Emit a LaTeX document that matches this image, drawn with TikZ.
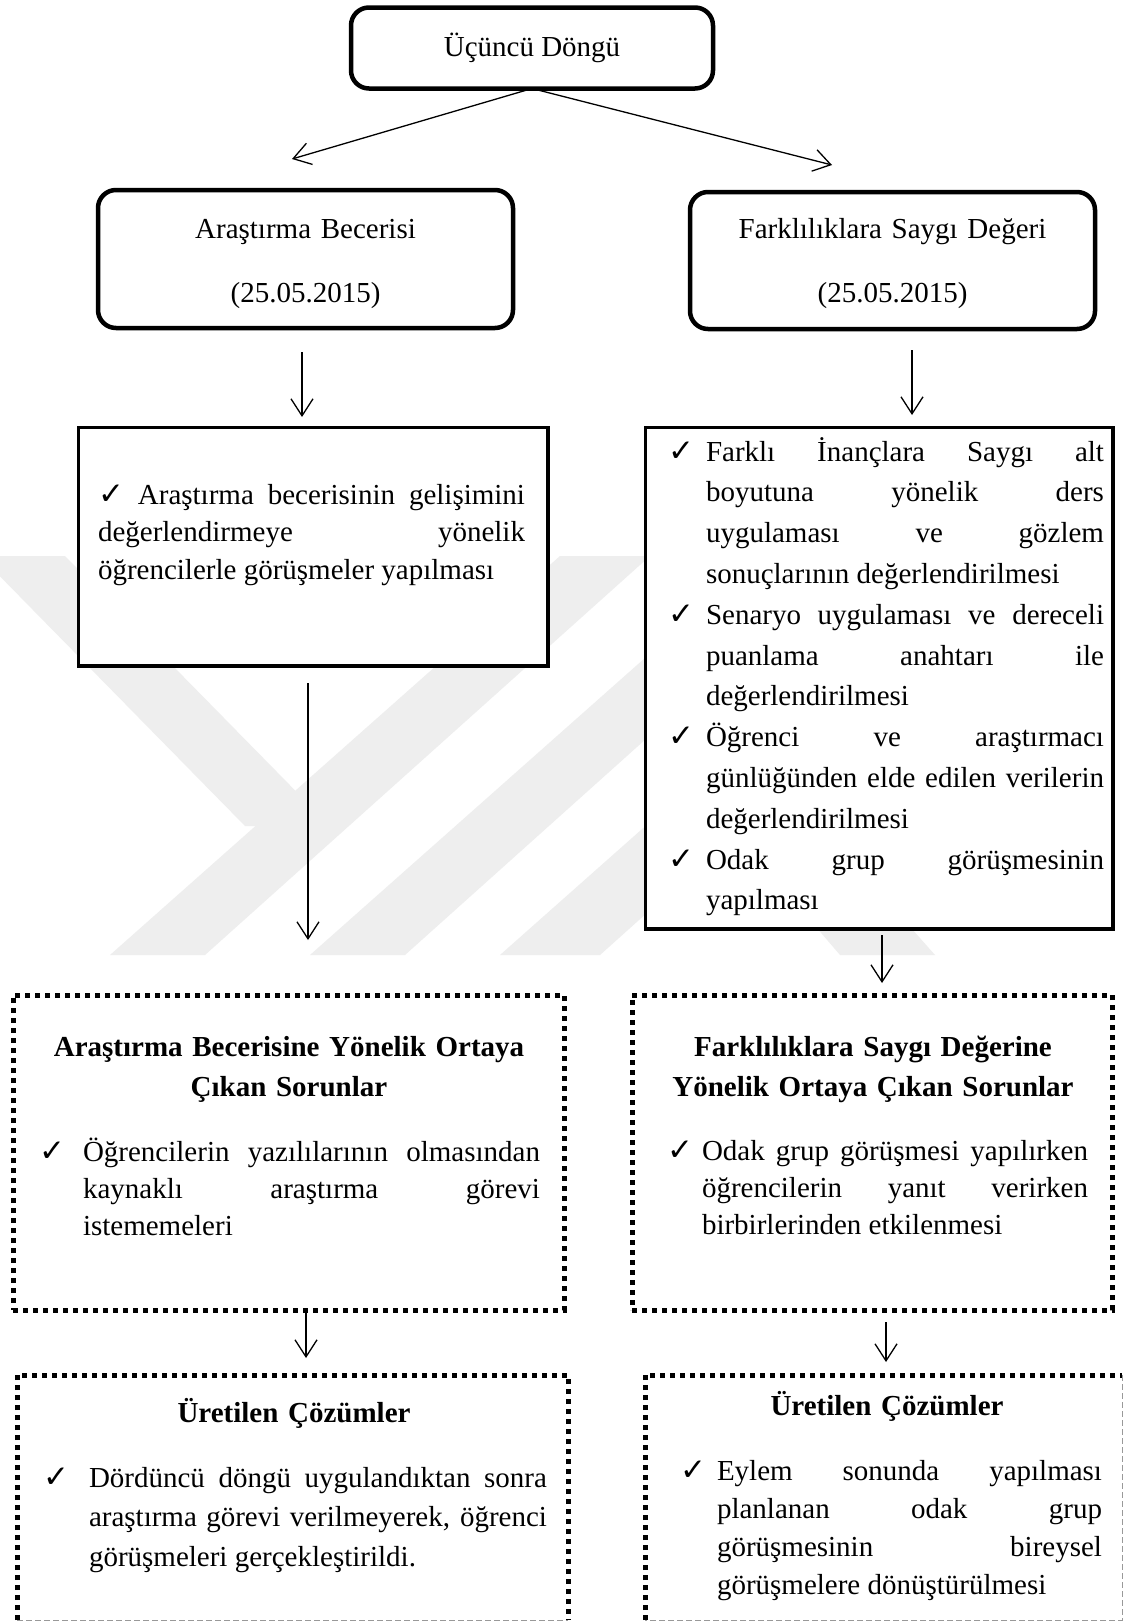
\documentclass[tikz,border=0pt]{standalone}
\usepackage{fontspec}
\setmainfont{Liberation Serif}
\newfontfamily\checkfont{DejaVu Sans}
\usetikzlibrary{arrows.meta}
\hyphenpenalty=10000
\exhyphenpenalty=10000
\tolerance=10000
\newcommand\chk{{\checkfont\fontsize{31pt}{31pt}\selectfont ✓}}
\newcommand\itemchk[1]{\leavevmode\llap{\makebox[#1][l]{\chk}}}

\tikzset{
  rbox/.style={draw, line width=4.5pt, rounded corners=18pt, fill=white, outer sep=0pt,
               font=\fontsize{29pt}{63pt}\selectfont, align=center},
  pbox/.style={draw, line width=3pt, fill=white, outer sep=0pt},
  pshade/.style={line width=2pt, line cap=rect},
  dbox/.style={draw, line width=5pt, dash pattern=on 5pt off 5pt, fill=white, outer sep=0pt},
  sbox/.style={fill=white, outer sep=0pt},
  dotline/.style={line width=5pt, dash pattern=on 5pt off 5pt},
  cutline/.style={line width=1pt, draw=gray!80, dash pattern=on 6pt off 3pt},
  txt/.style={anchor=base west, inner sep=0pt, outer sep=0pt, text width=#1, align=justify},
  head/.style={anchor=base, inner sep=0pt, outer sep=0pt, text width=#1, align=center,
              font=\fontsize{29pt}{64pt}\selectfont},
  ttl/.style={anchor=base, inner sep=0pt, outer sep=0pt, text width=#1, align=center,
              font=\fontsize{29pt}{40pt}\selectfont\bfseries},
  arr/.style={line width=1.3pt, -{Straight Barb[length=17pt, width=22pt, line width=1.3pt]}},
  emblem/.style={fill=gray!13, draw=none}
}

\begin{document}
\begin{tikzpicture}[x=1pt, y=-1pt]
  \useasboundingbox (0,0) rectangle (1124,1622);
  \clip (0,0) rectangle (1124,1622);
  \fill[white] (0,0) rectangle (1124,1622);

  % faint background emblem
  \fill[emblem] (-20,556) -- (65,556) -- (330,826) -- (245,826) -- cycle;
  \fill[emblem] (110,955) -- (205,955) -- (650,556) -- (560,556) -- cycle;
  \fill[emblem] (310,955) -- (405,955) -- (850,556) -- (760,556) -- cycle;
  \fill[emblem] (500,955) -- (600,955) -- (1045,556) -- (950,556) -- cycle;
  \fill[emblem] (690,780) -- (780,780) -- (935,955) -- (840,955) -- cycle;

  % top
  \node[rbox, minimum width=362pt, minimum height=81pt] (top) at (532,48) {Üçüncü Döngü};

  % dated boxes
  \node[rbox, minimum width=415pt, minimum height=138pt] (dateL) at (305.5,259) {};
  \node[rbox, minimum width=405pt, minimum height=137pt] (dateR) at (892.5,260.5) {};
  \node[head=400pt] (dateLtxt) at (305.5,238.5) {Araştırma Becerisi\\(25.05.2015)};
  \node[head=400pt] (dateRtxt) at (892.5,238.5) {Farklılıklara Saygı Değeri\\(25.05.2015)};

  % activity boxes
  \node[pbox, minimum width=469pt, minimum height=238pt] (midL) at (312.5,546) {};
  \node[pbox, minimum width=467pt, minimum height=501pt] (midR) at (878.5,677.5) {};
  \draw[pshade] ([xshift=1.5pt]midL.north east) -- ([xshift=1.5pt, yshift=-1.5pt]midL.south east)
    -- ([yshift=-1.5pt]midL.south west);
  \draw[pshade] ([xshift=1.5pt]midR.north east) -- ([xshift=1.5pt, yshift=-1.5pt]midR.south east)
    -- ([yshift=-1.5pt]midR.south west);

  \node[txt=427pt, font=\fontsize{29pt}{37.5pt}\selectfont] (midLtxt) at (98,504)
    {\chk\ Araştırma becerisinin gelişimini\linebreak
     değerlendirmeye yönelik\linebreak
     öğrencilerle görüşmeler yapılması};

  \node[txt=398pt, font=\fontsize{29pt}{40.8pt}\selectfont] (midRtxt) at (706,461)
    {\itemchk{38pt}Farklı İnançlara Saygı alt\linebreak
     boyutuna yönelik ders\linebreak
     uygulaması ve gözlem\linebreak
     sonuçlarının değerlendirilmesi\par
     \itemchk{38pt}Senaryo uygulaması ve dereceli\linebreak
     puanlama anahtarı ile\linebreak
     değerlendirilmesi\par
     \itemchk{38pt}Öğrenci ve araştırmacı\linebreak
     günlüğünden elde edilen verilerin\linebreak
     değerlendirilmesi\par
     \itemchk{38pt}Odak grup görüşmesinin\linebreak
     yapılması};

  % problem boxes
  \node[dbox, minimum width=551pt, minimum height=315pt] (probL) at (288.5,1152.5) {};
  \node[dbox, minimum width=480pt, minimum height=315pt] (probR) at (872,1152.5) {};

  \node[ttl=530pt] (probLttl) at (289,1056)
    {Araştırma Becerisine Yönelik Ortaya\\Çıkan Sorunlar};
  \node[txt=457pt, font=\fontsize{29pt}{37pt}\selectfont] (probLtxt) at (83,1161)
    {\itemchk{44pt}Öğrencilerin yazılılarının olmasından\linebreak
     kaynaklı araştırma görevi\linebreak
     istememeleri};

  \node[ttl=460pt] (probRttl) at (873,1056)
    {Farklılıklara Saygı Değerine\\Yönelik Ortaya Çıkan Sorunlar};
  \node[txt=386pt, font=\fontsize{29pt}{37pt}\selectfont] (probRtxt) at (702,1160)
    {\itemchk{35pt}Odak grup görüşmesi yapılırken\linebreak
     öğrencilerin yanıt verirken\linebreak
     birbirlerinden etkilenmesi};

  % solution boxes
  \node[sbox, minimum width=551pt, minimum height=245pt] (solL) at (292.5,1497.5) {};
  \node[sbox, minimum width=477pt, minimum height=245pt] (solR) at (883.5,1497.5) {};
  \draw[dotline] (solL.south west) -- (solL.north west) -- (solL.north east) -- (solL.south east);
  \draw[cutline] (solL.south west) -- (solL.south east);
  \draw[dotline] (solR.south west) -- (solR.north west) -- (solR.north east);
  \draw[cutline] (solR.north east) -- (solR.south east) -- (solR.south west);

  \node[ttl=500pt] (solLttl) at (294,1422) {Üretilen Çözümler};
  \node[txt=458pt, font=\fontsize{29pt}{39.5pt}\selectfont] (solLtxt) at (89,1487)
    {\itemchk{46pt}Dördüncü döngü uygulandıktan sonra\linebreak
     araştırma görevi verilmeyerek, öğrenci\linebreak
     görüşmeleri gerçekleştirildi.};

  \node[ttl=440pt] (solRttl) at (887,1415) {Üretilen Çözümler};
  \node[txt=385pt, font=\fontsize{29pt}{38.3pt}\selectfont] (solRtxt) at (717,1480)
    {\itemchk{37pt}Eylem sonunda yapılması\linebreak
     planlanan odak grup\linebreak
     görüşmesinin bireysel\linebreak
     görüşmelere dönüştürülmesi};

  % connectors
  \coordinate (tipL) at (292,159);
  \coordinate (tipR) at (832,165);
  \draw[arr, shorten <=2pt] (top.south) -- (tipL);
  \draw[arr, shorten <=3pt] (top.south) -- (tipR);

  \draw[arr, shorten <=24pt, shorten >=10pt]
    ([xshift=-3.5pt]dateL.south) -- ([xshift=-3.5pt]dateL.south |- midL.north);
  \draw[arr, shorten <=21pt, shorten >=12pt]
    ([xshift=19.5pt]dateR.south) -- ([xshift=19.5pt]dateR.south |- midR.north);

  \draw[arr, shorten <=18pt, shorten >=55pt]
    ([xshift=-4.5pt]midL.south) -- ([xshift=-4.5pt]midL.south |- probL.north);
  \draw[arr, shorten <=7pt, shorten >=12pt]
    ([xshift=3.5pt]midR.south) -- ([xshift=3.5pt]midR.south |- probR.north);

  \draw[arr, shorten <=2pt, shorten >=17pt]
    ([xshift=17.5pt]probL.south) -- ([xshift=17.5pt]probL.south |- solL.north);
  \draw[arr, shorten <=12pt, shorten >=13pt]
    ([xshift=14pt]probR.south) -- ([xshift=14pt]probR.south |- solR.north);
\end{tikzpicture}
\end{document}
